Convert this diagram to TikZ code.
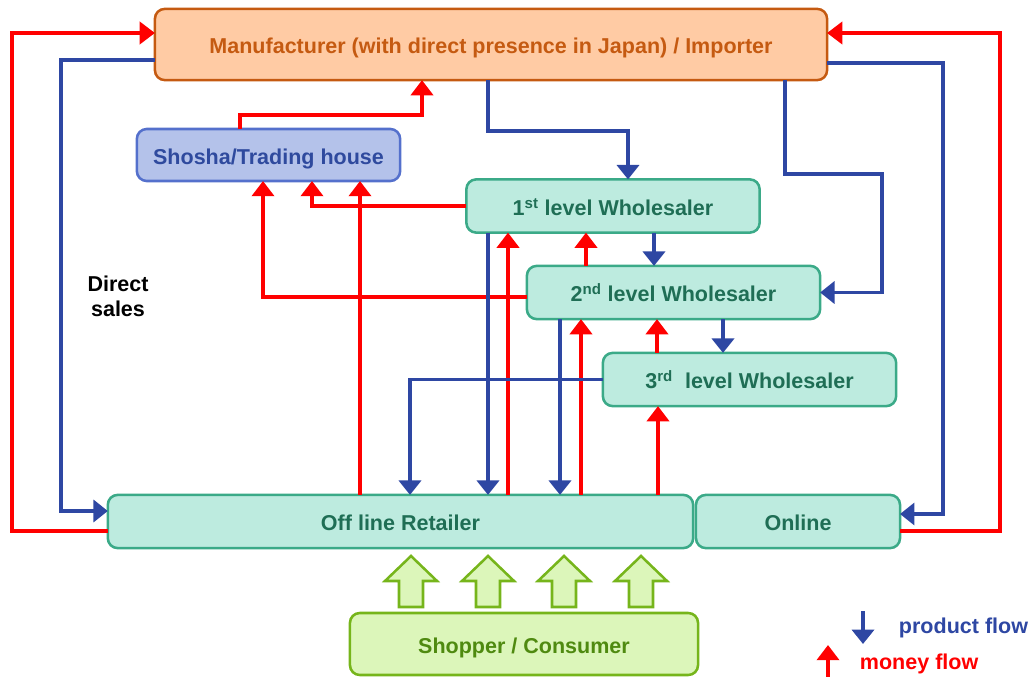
\documentclass[tikz,border=0pt]{standalone}
\usepackage{fontspec}
\setmainfont{Liberation Sans}
\usepackage{xcolor}
\usetikzlibrary{positioning,arrows.meta,calc}

\definecolor{manfill}{HTML}{FFCBA4}
\definecolor{mandraw}{HTML}{C55A11}
\definecolor{shofill}{HTML}{B4C2EA}
\definecolor{shodraw}{HTML}{5470CC}
\definecolor{shotext}{HTML}{2F4A9E}
\definecolor{whfill}{HTML}{BDEBDF}
\definecolor{whdraw}{HTML}{3BAA88}
\definecolor{whtext}{HTML}{1F6E55}
\definecolor{cusfill}{HTML}{DCF6BA}
\definecolor{cusdraw}{HTML}{76B51B}
\definecolor{custext}{HTML}{4F8A10}
\definecolor{moneyred}{HTML}{FF0000}
\definecolor{prodblue}{HTML}{2E47A3}

\begin{document}
\begin{tikzpicture}[x=0.025cm,y=-0.025cm,
	box/.style={rounded corners=7pt,line width=1.8pt,inner sep=0pt,outer sep=0pt,
		text height=16.5pt,text depth=3pt,font=\fontsize{15.3}{18}\selectfont\bfseries},
	whbox/.style={box,fill=whfill,draw=whdraw,text=whtext,minimum width=7.33cm,minimum height=1.33cm},
	money/.style={draw=moneyred,line width=2.8pt,-{Triangle[width=0.55cm,length=0.38cm]}},
	product/.style={draw=prodblue,line width=2.6pt,-{Triangle[width=0.55cm,length=0.36cm]}},
	bigup/.style={fill=cusfill,draw=cusdraw,line width=1.8pt},
	legend/.style={anchor=west,font=\fontsize{15.3}{18}\selectfont\bfseries}]
	\useasboundingbox (0,0) rectangle (1028,677);

	% boxes
	\node[box,fill=manfill,draw=mandraw,text=mandraw,minimum width=16.8cm,minimum height=1.78cm]
		(man) at (491,44.5) {Manufacturer (with direct presence in Japan) / Importer};
	\node[box,fill=shofill,draw=shodraw,text=shotext,minimum width=6.58cm,minimum height=1.3cm]
		(sho) at (268.5,155) {Shosha/Trading house};
	\node[whbox] (w1) at (613,206) {1\textsuperscript{st} level Wholesaler};
	\node[whbox] (w2) at (673.5,292.5) {2\textsuperscript{nd} level Wholesaler};
	\node[whbox] (w3) at (749.5,379.5) {3\textsuperscript{rd}\ \ level Wholesaler};
	\node[whbox,minimum width=14.63cm] (ret) at (400.5,521.5) {Off line Retailer};
	\node[whbox,minimum width=5.1cm] (onl) at (798,521.5) {Online};
	\node[box,fill=cusfill,draw=cusdraw,text=custext,minimum width=8.7cm,minimum height=1.55cm]
		(cus) at (524,644) {Shopper / Consumer};

	\node[align=center,font=\fontsize{15.3}{18}\selectfont\bfseries] (direct) at (118,296) {Direct\\sales};

	% money flow
	\draw[money] (ret.west |- 0,531) -| (12,33) -- (man.west |- 0,33);
	\draw[money] (onl.east |- 0,531) -| (1000,33) -- (man.east |- 0,33);
	\draw[money] (sho.north -| 240,0) |- (422,115) -- (man.south -| 422,0);
	\draw[money] (w1.west) -| (sho.south -| 312,0);
	\draw[money] (ret.north -| 360,0) -- (sho.south -| 360,0);
	\draw[money] (w2.west |- 0,297) -| (sho.south -| 263,0);
	\draw[money] (ret.north -| 508,0) -- (w1.south -| 508,0);
	\draw[money] (w2.north -| 586,0) -- (w1.south -| 586,0);
	\draw[money] (ret.north -| 581,0) -- (w2.south -| 581,0);
	\draw[money] (w3.north -| 657,0) -- (w2.south -| 657,0);
	\draw[money] (ret.north -| 658,0) -- (w3.south -| 658,0);

	% product flow
	\draw[product] (man.west |- 0,60) -| (61,511) -- (ret.west |- 0,511);
	\draw[product] (man.south -| 488,0) |- (628,131) -- (w1.north -| 628,0);
	\draw[product] (man.south -| 785,0) |- (882,174) |- (w2.east);
	\draw[product] (man.east |- 0,63) -| (943,514) -- (onl.east |- 0,514);
	\draw[product] (w1.south -| 654,0) -- (w2.north -| 654,0);
	\draw[product] (w2.south -| 723,0) -- (w3.north -| 723,0);
	\draw[product] (w1.south -| 488,0) -- (ret.north -| 488,0);
	\draw[product] (w2.south -| 560,0) -- (ret.north -| 560,0);
	\draw[product] (w3.west) -| (ret.north -| 410,0);

	% shopper arrows
	\foreach \x in {411,488,564,641}
		\draw[bigup] (\x-12,607) -- (\x-12,581) -- (\x-26,581) -- (\x,556)
			-- (\x+26,581) -- (\x+12,581) -- (\x+12,607) -- cycle;

	% legend
	\coordinate (pf) at (863,611);
	\coordinate (mf) at (828,677);
	\draw[product] (pf) -- ++(0,33);
	\draw[money] (mf) -- ++(0,-32);
	\node[legend,text=prodblue] (pftext) at (894,628) {product flow};
	\node[legend,text=moneyred] (mftext) at (855,664) {money flow};
\end{tikzpicture}
\end{document}
